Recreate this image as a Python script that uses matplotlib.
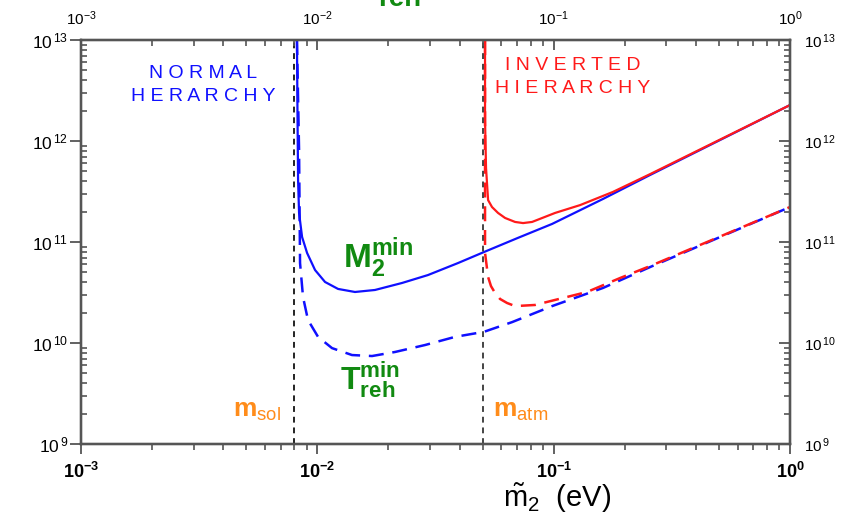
import matplotlib
matplotlib.use('Agg')
import matplotlib.pyplot as plt
from matplotlib.ticker import LogLocator, NullFormatter

plt.rcParams['font.family'] = ['Liberation Sans', 'DejaVu Sans']
plt.rcParams['mathtext.fontset'] = 'custom'
plt.rcParams['mathtext.rm'] = 'Liberation Sans'
plt.rcParams['mathtext.bf'] = 'Liberation Sans:bold'
plt.rcParams['mathtext.it'] = 'Liberation Sans:italic'

# mass thresholds (eV)
m_sol = 0.008
m_atm = 0.05

# normal hierarchy: M2 min (solid) and T_reh min (dashed)
nh_m = [0.0082, 0.00824, 0.00829, 0.00837, 0.00862, 0.00905, 0.00978, 0.01078,
        0.01224, 0.01443, 0.01754, 0.02283, 0.0294, 0.03938, 0.05074, 0.0707,
        0.0985, 0.1618, 0.2559, 1.0]
nh_M = [1e13, 2.03e12, 4.11e11, 1.94e11, 1.12e11, 7.79e10, 5.28e10, 4.02e10,
        3.43e10, 3.2e10, 3.35e10, 3.93e10, 4.71e10, 6.19e10, 7.96e10, 1.1e11,
        1.51e11, 2.67e11, 4.61e11, 2.27e12]
nh_Tm = [0.0082, 0.00837, 0.00845, 0.0087, 0.00913, 0.01007, 0.01154, 0.01402,
         0.01704, 0.02132, 0.02856, 0.03825, 0.0507, 0.0667, 0.0985, 0.1618,
         0.2559, 1.0]
nh_T = [1e13, 8.1e11, 6.19e10, 2.85e10, 1.69e10, 1.15e10, 8.9e9, 7.6e9,
        7.43e9, 8.15e9, 9.55e9, 1.15e10, 1.29e10, 1.61e10, 2.32e10, 3.51e10,
        5.65e10, 2.22e11]

# inverted hierarchy
ih_m = [0.05124, 0.05124, 0.05174, 0.05279, 0.05484, 0.05816, 0.0623, 0.06866,
        0.07422, 0.08104, 0.1014, 0.1294, 0.178, 0.2559, 1.0]
ih_M = [1e13, 1.61e12, 5.4e11, 2.6e11, 2.22e11, 1.94e11, 1.73e11, 1.58e11,
        1.54e11, 1.58e11, 1.94e11, 2.32e11, 3.13e11, 4.7e11, 2.27e12]
ih_Tm = [0.05124, 0.05124, 0.05279, 0.0543, 0.05649, 0.0593, 0.0635, 0.06866,
         0.0834, 0.1014, 0.1384, 0.191, 0.2559, 1.0]
ih_T = [1e13, 7.8e10, 4.5e10, 3.66e10, 3.13e10, 2.73e10, 2.49e10, 2.32e10,
        2.38e10, 2.67e10, 3.2e10, 4.4e10, 5.78e10, 2.22e11]

x_ticks = [1e-3, 1e-2, 1e-1, 1e0]
x_bottom_labels = [r'$\mathbf{10^{-3}}$', r'$\mathbf{10^{-2}}$',
                   r'$\mathbf{10^{-1}}$', r'$\mathbf{10^{0}}$']
x_top_labels = [r'$10^{-3}$', r'$10^{-2}$', r'$10^{-1}$', r'$10^{0}$']
y_ticks = [1e9, 1e10, 1e11, 1e12, 1e13]
y_labels = [r'$10^{\,9}$', r'$10^{\,10}$', r'$10^{\,11}$', r'$10^{\,12}$',
            r'$10^{\,13}$']

blue = '#1010ff'
red = '#ff1a1a'
green = '#118a11'
orange = '#ff8c1a'
frame = '#555555'

fig = plt.figure(figsize=(8.49, 5.13), dpi=100)
ax = fig.add_axes([0.0954, 0.1345, 0.8351, 0.7875])
ax.set_xscale('log')
ax.set_yscale('log')

ax.axvline(m_sol, color='#222222', lw=1.4, dashes=(3, 2.5), zorder=4)
ax.axvline(m_atm, color='#444444', lw=1.4, dashes=(3, 2.5), zorder=4)

ax.plot(nh_m, nh_M, color=blue, lw=1.6, zorder=2, solid_joinstyle='round')
ax.plot(nh_Tm, nh_T, color=blue, lw=1.8, dashes=(6, 3.5), zorder=2,
        dash_joinstyle='round')
ax.plot(ih_m, ih_M, color=red, lw=1.6, zorder=3, solid_joinstyle='round')
ax.plot(ih_Tm, ih_T, color=red, lw=1.8, dashes=(6, 3.5), zorder=3,
        dash_joinstyle='round')

ax.set_xlim(1e-3, 1)
ax.set_ylim(1e9, 1e13)

ax.set_xticks(x_ticks)
ax.set_xticklabels(x_bottom_labels, fontsize=13)
ax.set_yticks(y_ticks)
ax.set_yticklabels(y_labels, fontsize=12.5)
for a in (ax.xaxis, ax.yaxis):
    a.set_minor_locator(LogLocator(base=10, subs=range(2, 10), numticks=20))
    a.set_minor_formatter(NullFormatter())
ax.tick_params(axis='x', which='major', direction='out', length=7, width=1.3,
               color=frame, pad=6)
ax.tick_params(axis='x', which='minor', direction='out', length=4, width=1.2,
               color=frame)
ax.tick_params(axis='y', which='major', direction='out', length=8, width=1.3,
               color=frame, pad=1)
ax.tick_params(axis='y', which='minor', direction='in', length=4, width=1.2,
               color=frame)

# top axis
axt = ax.twiny()
axt.set_xscale('log')
axt.set_xlim(ax.get_xlim())
axt.set_xticks(x_ticks)
axt.set_xticklabels(x_top_labels, fontsize=11)
axt.xaxis.set_minor_locator(LogLocator(base=10, subs=range(2, 10), numticks=20))
axt.xaxis.set_minor_formatter(NullFormatter())
axt.tick_params(axis='x', which='major', direction='in', length=7, width=1.3,
                color=frame, pad=9)
axt.tick_params(axis='x', which='minor', direction='in', length=4, width=1.2,
                color=frame)

# right axis
axr = ax.twinx()
axr.set_yscale('log')
axr.set_ylim(ax.get_ylim())
axr.set_yticks(y_ticks)
axr.set_yticklabels(y_labels, fontsize=11)
axr.yaxis.set_minor_locator(LogLocator(base=10, subs=range(2, 10), numticks=20))
axr.yaxis.set_minor_formatter(NullFormatter())
axr.tick_params(axis='y', which='major', direction='in', length=8, width=1.3,
                color=frame, pad=10)
axr.tick_params(axis='y', which='minor', direction='in', length=4, width=1.2,
                color=frame)

for a in (ax, axt, axr):
    for s in a.spines.values():
        s.set_color(frame)
        s.set_linewidth(1.6)

ax.text(0.172, 0.889, 'N O R M A L\nH E R A R C H Y', transform=ax.transAxes,
        color=blue, fontsize=14, ha='center', va='center', linespacing=1.45)
ax.text(0.694, 0.909, 'I N V E R T E D\nH I E R A R C H Y',
        transform=ax.transAxes, color=red, fontsize=14, ha='center',
        va='center', linespacing=1.45)

ax.text(0.3695, 0.4356, r'$\mathbf{M}_{\mathbf{2}}^{\mathbf{min}}$',
        transform=ax.transAxes, color=green, fontsize=24, va='baseline')
ax.text(0.365, 0.1337, r'$\mathbf{T}_{\mathbf{reh}}^{\mathbf{min}}$',
        transform=ax.transAxes, color=green, fontsize=23, va='baseline')
ax.text(0.2144, 0.0668, r'$\mathbf{m}_{\mathregular{sol}}$',
        transform=ax.transAxes, color=orange, fontsize=19, va='baseline')
ax.text(0.581, 0.0668, r'$\mathbf{m}_{\mathregular{atm}}$',
        transform=ax.transAxes, color=orange, fontsize=19, va='baseline')

fig.text(0.656, 0.012, r'$\tilde{\mathregular{m}}_{2}$  (eV)', fontsize=21,
         ha='center', va='baseline')
fig.text(0.471, 0.988, 'reh', color=green, fontsize=20, fontweight='bold',
         ha='center', va='baseline')

fig.savefig('out.png', dpi=100)
